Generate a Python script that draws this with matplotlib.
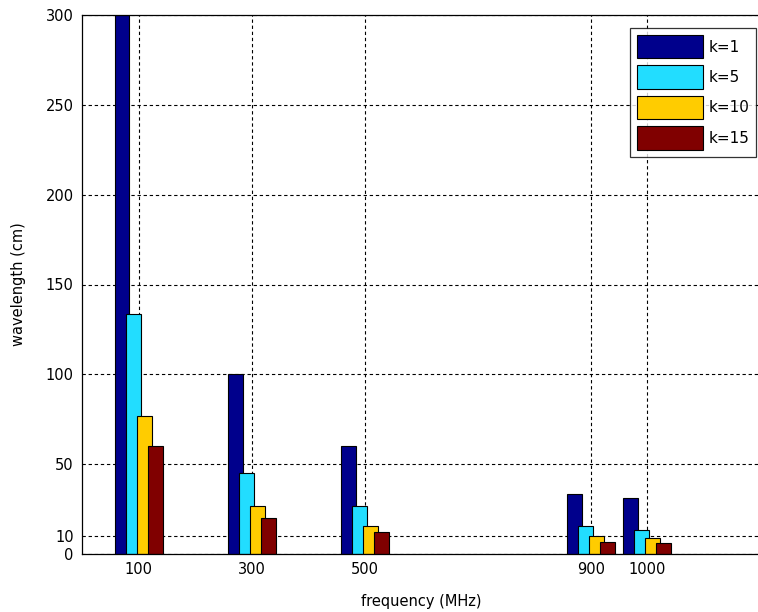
import matplotlib
matplotlib.use("Agg")
import matplotlib.pyplot as plt
import numpy as np

freqs = [100, 300, 500, 900, 1000]
series_labels = ["k=1", "k=5", "k=10", "k=15"]
k1 = [300, 100, 60.2, 33.3, 31.0]
k5 = [133.8, 45.2, 26.5, 15.5, 13.5]
k10 = [77.0, 26.5, 15.6, 10.2, 8.8]
k15 = [60.2, 20.2, 12.0, 6.8, 6.3]
series = [k1, k5, k10, k15]
colors = ["#00008C", "#22DDFF", "#FFCC00", "#800000"]
yticks = [0, 10, 50, 100, 150, 200, 250, 300]

plt.rcParams['font.family'] = ['DejaVu Sans']
fig = plt.figure(figsize=(7.58, 6.12), dpi=100)
ax = fig.add_axes([82/758, 1-554/612, (760.5-82)/758, (554-15)/612])

spacing = 19.5
width = 26.5
x = np.array(freqs, dtype=float)
handles = []
for i, (vals, c, lab) in enumerate(zip(series, colors, series_labels)):
    h = ax.bar(x + (i - 1.5) * spacing, vals, width=width, color=c,
               edgecolor='black', linewidth=0.8, label=lab, zorder=2)
    handles.append(h)

ax.set_xlim(0, 1200)
ax.set_ylim(0, 300)
ax.set_xticks(freqs)
ax.set_xticklabels([str(f) for f in freqs])
ax.set_yticks(yticks)
ax.grid(True, color='black', linestyle=(0, (3, 2.5)), linewidth=0.8, zorder=1)
ax.set_axisbelow(True)
ax.tick_params(direction='in', length=0, labelsize=10.5, pad=6)
for s in ax.spines.values():
    s.set_linewidth(0.9)
    s.set_zorder(3)

ax.set_xlabel("frequency (MHz)", fontsize=10.5, labelpad=12)
ax.set_ylabel("wavelength (cm)", fontsize=10.5, labelpad=14)

leg = ax.legend(handles=handles, loc='upper right',
                bbox_to_anchor=(756/758, 1-28/612), bbox_transform=fig.transFigure,
                fontsize=11, frameon=True, fancybox=False, edgecolor='black',
                handlelength=4.3, handleheight=2.0, handletextpad=0.35,
                borderpad=0.45, labelspacing=0.45, borderaxespad=0)
leg.get_frame().set_linewidth(0.9)

fig.savefig("out.png", dpi=100)
